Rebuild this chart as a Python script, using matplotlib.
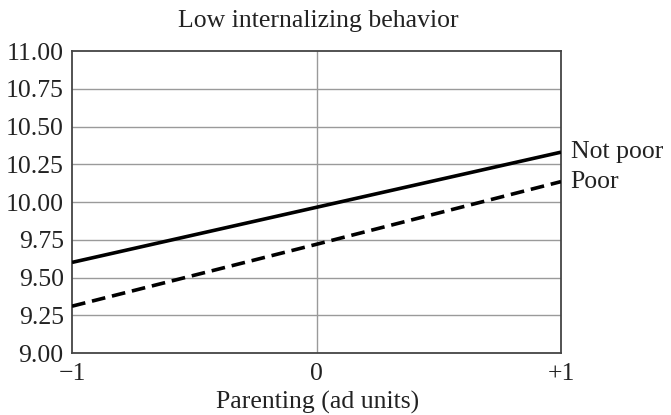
import matplotlib
matplotlib.use("Agg")
import matplotlib.pyplot as plt

x_vals = [-1, 0, 1]
not_poor = [9.60, 9.965, 10.33]
poor = [9.31, 9.72, 10.135]
x_ticklabels = ["\u22121", "0", "+1"]
y_ticks = [9.00, 9.25, 9.50, 9.75, 10.00, 10.25, 10.50, 10.75, 11.00]
series_labels = ["Not poor", "Poor"]

plt.rcParams['font.family'] = ['Liberation Serif', 'DejaVu Serif']
FS = 18.5
TC = '#222222'

W, H = 671, 415
fig = plt.figure(figsize=(W/100, H/100), dpi=100)
ax = fig.add_axes([72/W, 1-353/H, (561-72)/W, (353-51)/H])

for y in y_ticks[1:-1]:
    ax.axhline(y, color='#9a9a9a', lw=1.0, zorder=1)
ax.axvline(0, color='#9a9a9a', lw=1.0, zorder=1)

ax.plot(x_vals, not_poor, color='black', lw=2.6, solid_capstyle='butt', zorder=3)
ax.plot(x_vals, poor, color='black', lw=2.6, dashes=(3.8, 1.9), zorder=3)

ax.set_xlim(-1, 1)
ax.set_ylim(9.0, 11.0)
ax.set_xticks(x_vals)
ax.set_xticklabels(x_ticklabels)
ax.set_yticks(y_ticks)
ax.set_yticklabels([f"{v:.2f}" for v in y_ticks])
ax.tick_params(length=0, labelsize=FS, colors=TC)
ax.tick_params(axis='y', pad=6)
ax.tick_params(axis='x', pad=7)
for s in ax.spines.values():
    s.set_color('#444444')
    s.set_linewidth(1.3)

ax.text(1.04, not_poor[-1], series_labels[0], fontsize=FS, va='center', ha='left', color=TC, clip_on=False)
ax.text(1.04, poor[-1], series_labels[1], fontsize=FS, va='center', ha='left', color=TC, clip_on=False)

fig.text(318/W, 1-21/H, "Low internalizing behavior", fontsize=FS, ha='center', va='center', color=TC)
fig.text(318/W, 1-402/H, "Parenting (ad units)", fontsize=FS, ha='center', va='center', color=TC)

fig.savefig("out.png", dpi=100)
